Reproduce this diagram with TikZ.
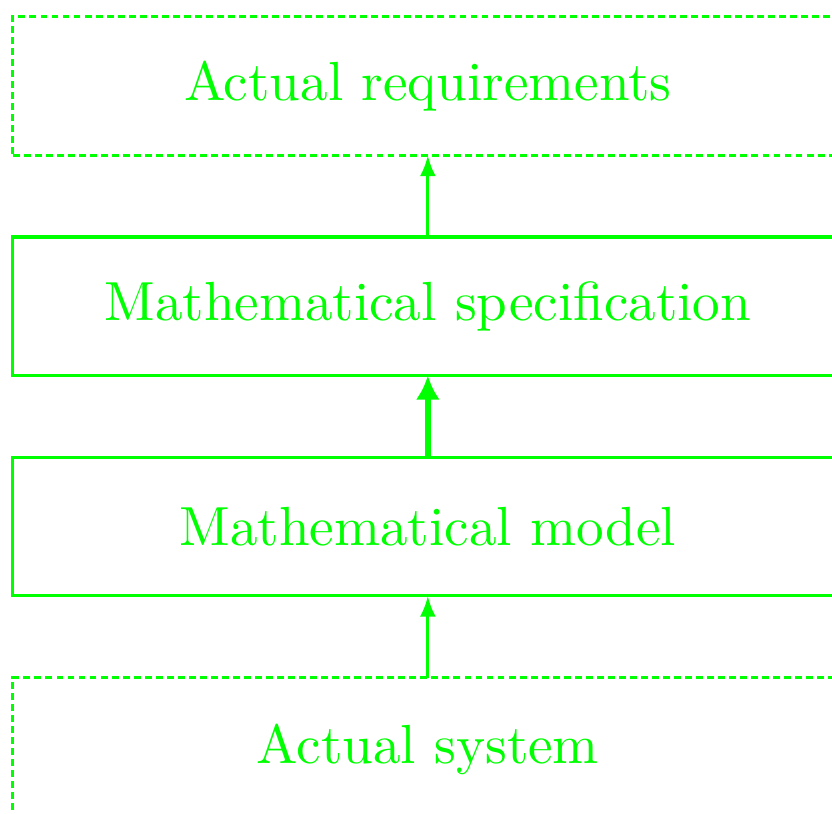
\documentclass[tikz,border=0pt]{standalone}
\usepackage{xcolor}
\usepackage{tikz}
\usetikzlibrary{arrows.meta, positioning}

\begin{document}
\begin{tikzpicture}[
  node distance=14.85pt,
  every node/.style={text=green},
  block/.style={draw=green, semithick, outer sep=0pt, minimum width=150.6pt,
                minimum height=25.1pt, align=center},
  outer/.style={block, dash pattern=on 1.25pt off 0.75pt},
  arrow/.style={-{Latex[length=3.8pt,width=2.9pt]}, semithick, color=green},
  bigarrow/.style={-{Latex[length=4.4pt,width=4.4pt]}, line width=1.1pt, color=green}
]
\useasboundingbox (-77.6pt,15.6pt) rectangle (73.3pt,-131.9pt);

% Top -- what is wanted
\node[outer] (req) {Actual requirements};

% Middle -- the formal layers
\node[block, below=of req] (spec) {Mathematical specification};
\node[block, below=of spec] (model) {Mathematical model};

% Bottom -- what exists (cut off by the page edge)
\node[outer, below=of model, minimum height=26pt] (sys) {Actual system};

% Connections
\draw[arrow] (sys) -- (model);
\draw[bigarrow] (model) -- (spec);
\draw[arrow] (spec) -- (req);

\end{tikzpicture}
\end{document}
